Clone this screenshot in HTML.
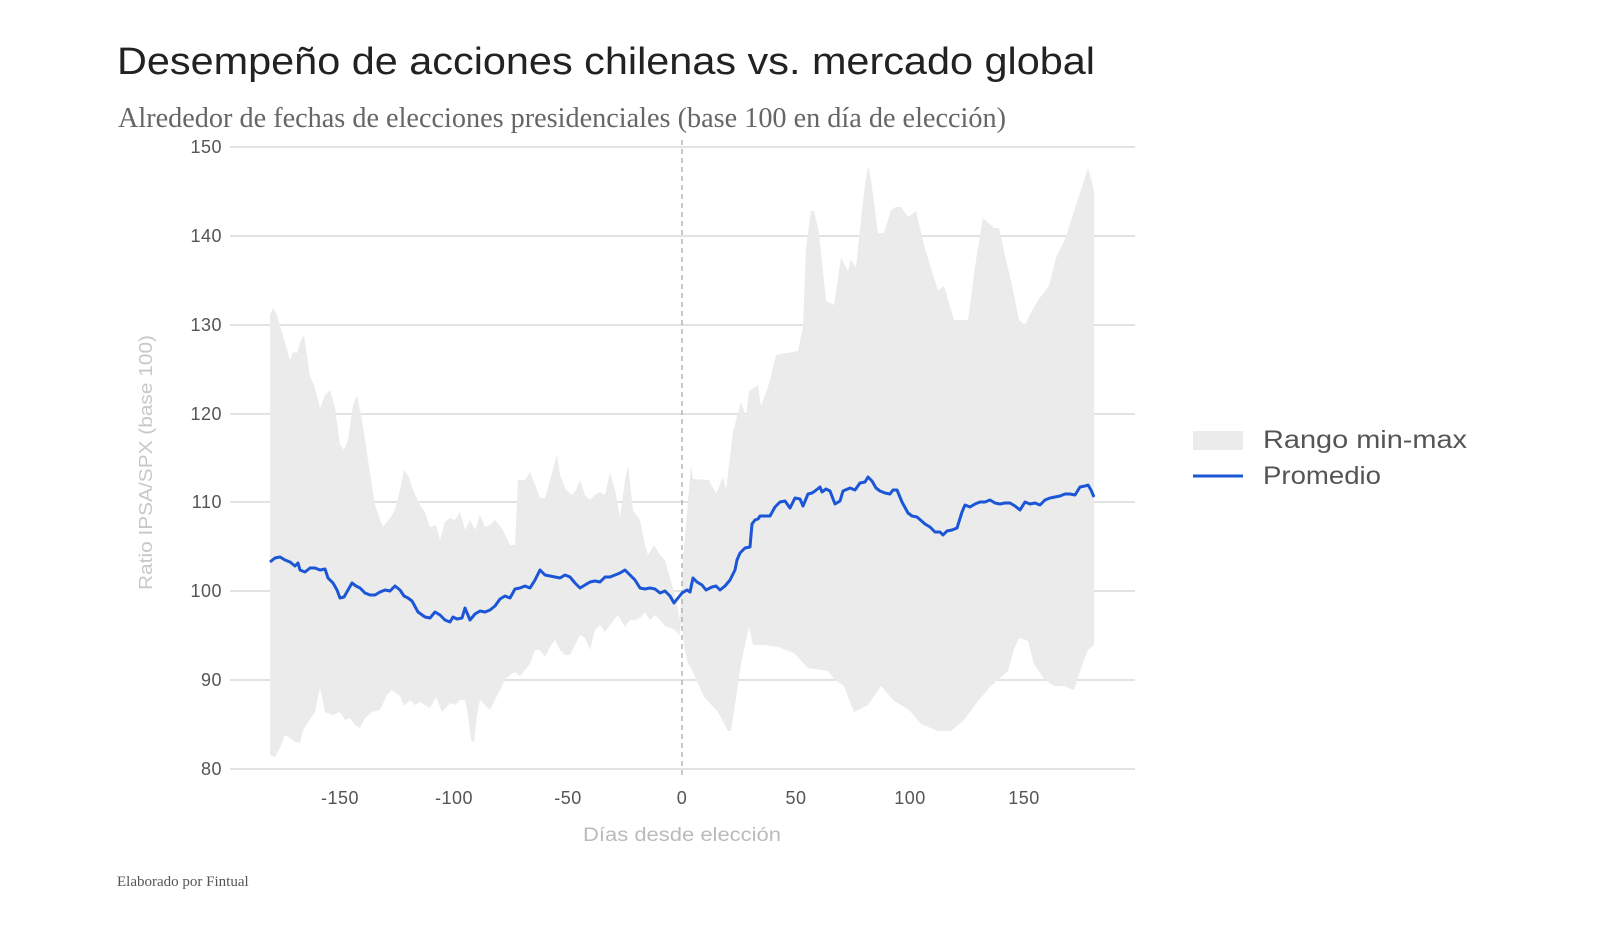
<!DOCTYPE html>
<html><head><meta charset="utf-8"><style>
body{margin:0;background:#fff;}
svg{display:block;}
</style></head><body>
<svg width="1600" height="930" xmlns="http://www.w3.org/2000/svg">
<rect width="1600" height="930" fill="#fff"/>
<text x="117" y="74" font-family="Liberation Sans, sans-serif" font-size="38" fill="#222" textLength="978" lengthAdjust="spacingAndGlyphs">Desempeño de acciones chilenas vs. mercado global</text>
<text x="118" y="127" font-family="Liberation Serif, serif" font-size="28" fill="#666" textLength="888" lengthAdjust="spacingAndGlyphs">Alrededor de fechas de elecciones presidenciales (base 100 en día de elección)</text>
<g stroke="#d0d0d0" stroke-width="1.3">
<line x1="230" y1="147" x2="1135" y2="147"/><line x1="230" y1="236" x2="1135" y2="236"/>
<line x1="230" y1="325" x2="1135" y2="325"/><line x1="230" y1="414" x2="1135" y2="414"/>
<line x1="230" y1="502" x2="1135" y2="502"/><line x1="230" y1="591" x2="1135" y2="591"/>
<line x1="230" y1="680" x2="1135" y2="680"/><line x1="230" y1="769" x2="1135" y2="769"/>
</g>
<polygon fill="#ebebeb" points="270,755 270,315 273,308 277,315 283,336 290,360 293,352 297,353 301,340 304,335 310,377 314,385 320,408 325,395 330,390 335,408 340,445 344,450 348,440 353,405 357,395 362,420 368,460 375,505 383,527 390,518 395,510 400,490 404,470 409,477 413,490 420,505 425,512 430,527 436,525 440,540 445,522 450,518 455,520 460,512 465,530 470,520 475,530 480,515 485,527 490,525 495,520 503,530 510,545 515,545 518,480 525,480 530,472 540,498 545,498 552,473 557,455 560,475 566,490 572,495 576,490 580,480 585,495 590,500 595,495 600,492 605,495 610,473 615,490 620,517 625,480 628,465 633,510 640,520 645,545 648,555 654,545 660,555 665,560 672,585 676,600 680,620 683,559 691,466 693,479 709,480 716,494 723,477 726,490 733,432 741,402 746,417 749,391 758,385 761,406 768,387 776,355 798,351 803,327 806,248 811,211 814,211 819,233 826,301 834,305 841,258 848,271 851,260 856,267 864,192 868,166 871,180 878,233 884,233 891,210 896,207 901,207 908,217 916,211 924,245 933,275 938,290 944,286 954,320 968,320 976,260 983,218 994,228 999,228 1006,260 1013,290 1019,320 1025,325 1031,312 1039,299 1049,286 1056,258 1066,237 1074,211 1081,190 1088,168 1094,190 1094,645 1088,650 1081,668 1074,690 1064,686 1054,686 1044,679 1034,664 1028,641 1019,638 1014,649 1008,671 991,686 978,701 964,720 951,731 938,731 921,724 908,709 894,701 881,686 868,705 854,712 844,686 834,679 828,671 808,668 794,653 778,647 764,645 753,645 749,627 741,664 731,731 728,731 718,712 704,697 691,668 688,664 684,645 682,620 679,635 675,630 670,628 665,626 660,620 655,615 650,620 645,612 640,618 635,620 630,620 625,627 618,615 610,625 605,632 600,625 595,630 590,650 585,638 580,635 575,645 570,655 565,655 560,650 555,640 550,647 545,657 540,650 535,650 530,664 525,670 520,676 515,672 510,675 505,680 500,690 495,700 490,710 485,705 480,700 477,715 474,742 471,740 468,715 465,700 460,700 455,705 450,703 442,712 436,697 430,708 420,702 415,705 410,700 404,706 400,696 392,690 387,695 380,710 372,712 365,718 360,728 355,725 350,718 345,720 340,712 333,715 325,712 320,688 315,712 306,725 303,730 300,743 295,742 290,738 285,735 280,748 275,757"/>
<line x1="682" y1="140" x2="682" y2="775" stroke="#aaa" stroke-width="1.3" stroke-dasharray="5,4"/>
<polyline fill="none" stroke="#1a56d6" stroke-width="3" stroke-linejoin="round" points="270,562 275,558 280,557 285,560 290,562 295,566 298,563 300,570 305,572 310,568 315,568 320,570 325,569 328,578 333,583 337,590 340,598 344,597 348,590 352,583 356,586 360,588 365,593 370,595 375,595 380,592 385,590 390,591 395,586 400,590 404,596 408,598 412,601 418,612 425,617 430,618 435,612 440,615 445,620 450,622 453,617 457,619 462,618 465,608 470,620 475,614 480,611 485,612 490,610 495,606 500,599 505,596 510,598 515,589 520,588 525,586 530,588 535,580 540,570 545,575 550,576 555,577 560,578 565,575 570,577 575,583 580,588 585,585 590,582 595,581 600,582 605,577 610,577 615,575 620,573 625,570 630,575 635,580 640,588 645,589 650,588 655,589 660,593 665,591 670,596 674,603 678,598 682,593 687,590 690,592 693,578 697,582 702,585 706,590 712,587 716,586 720,590 725,586 730,580 735,570 737,560 740,553 745,548 750,547 752,524 755,520 758,519 760,516 765,516 770,516 775,507 780,502 785,501 790,508 795,498 800,499 803,506 808,494 812,493 815,491 820,487 822,492 826,489 830,491 835,504 840,501 843,491 850,488 855,490 860,483 865,482 868,477 872,481 876,488 880,491 885,493 890,494 893,490 897,490 902,502 908,513 912,516 917,517 925,524 930,527 935,532 940,532 943,535 947,531 952,530 957,528 962,512 965,505 970,507 975,504 980,502 985,502 990,500 995,503 1000,504 1005,503 1010,503 1015,506 1020,510 1025,502 1030,504 1035,503 1040,505 1045,500 1050,498 1055,497 1060,496 1065,494 1070,494 1075,495 1080,487 1085,486 1088,485 1091,490 1094,497"/>
<g font-family="Liberation Sans, sans-serif" font-size="18" fill="#555" text-anchor="end" letter-spacing="0.5">
<text x="222" y="153">150</text><text x="222" y="242">140</text><text x="222" y="331">130</text><text x="222" y="420">120</text>
<text x="222" y="508">110</text><text x="222" y="597">100</text><text x="222" y="686">90</text><text x="222" y="775">80</text>
</g>
<g font-family="Liberation Sans, sans-serif" font-size="18" fill="#555" text-anchor="middle" letter-spacing="0.5">
<text x="340" y="804">-150</text><text x="454" y="804">-100</text><text x="568" y="804">-50</text><text x="682" y="804">0</text>
<text x="796" y="804">50</text><text x="910" y="804">100</text><text x="1024" y="804">150</text>
</g>
<text x="583" y="841" font-family="Liberation Sans, sans-serif" font-size="19" fill="#bbb" textLength="198" lengthAdjust="spacingAndGlyphs">Días desde elección</text>
<text transform="translate(152,590) rotate(-90)" font-family="Liberation Sans, sans-serif" font-size="18" fill="#c8c8c8" textLength="255" lengthAdjust="spacingAndGlyphs">Ratio IPSA/SPX (base 100)</text>
<rect x="1193" y="431" width="50" height="19" fill="#ebebeb"/>
<line x1="1193" y1="476" x2="1243" y2="476" stroke="#1a56d6" stroke-width="3"/>
<text x="1263" y="448" font-family="Liberation Sans, sans-serif" font-size="25" fill="#555" textLength="204" lengthAdjust="spacingAndGlyphs">Rango min-max</text>
<text x="1263" y="484" font-family="Liberation Sans, sans-serif" font-size="25" fill="#555" textLength="118" lengthAdjust="spacingAndGlyphs">Promedio</text>
<text x="117" y="886" font-family="Liberation Serif, serif" font-size="15" fill="#555">Elaborado por Fintual</text>
</svg>
</body></html>
